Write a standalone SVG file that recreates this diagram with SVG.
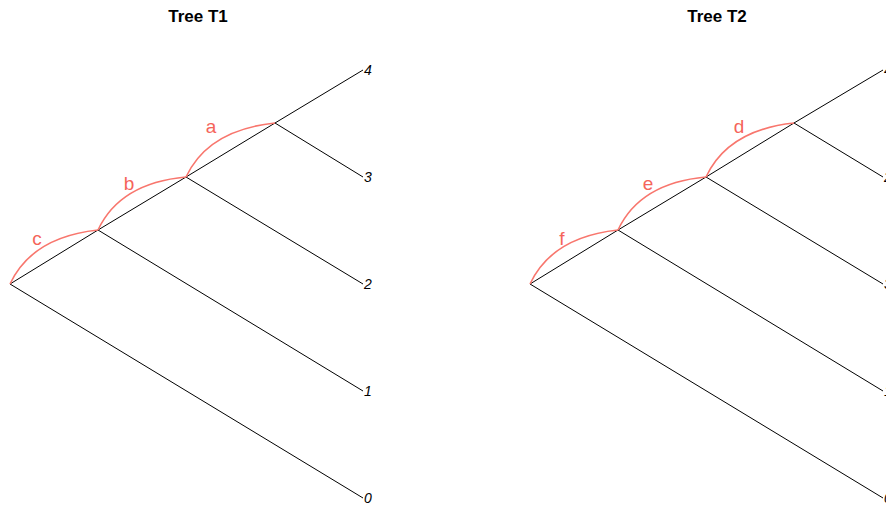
<svg xmlns="http://www.w3.org/2000/svg" width="886" height="508" viewBox="0 0 886 508">
<style>
.e{stroke:#000;stroke-width:1;fill:none}
.arc{stroke:#F8766D;stroke-width:1.6;fill:none}
.t{font-family:"Liberation Sans",Arial,sans-serif;font-size:14px;font-style:italic;fill:#000}
.lab{font-family:"Liberation Sans",Arial,sans-serif;font-size:19px;fill:#F5645A;text-anchor:middle}
.title{font-family:"Liberation Sans",Arial,sans-serif;font-size:17px;font-weight:bold;text-anchor:middle;fill:#000}
</style>
<rect width="886" height="508" fill="#fff"/>
<text class="title" x="198" y="22">Tree T1</text>
<text class="title" x="717" y="22">Tree T2</text>
<g id="connectors">
<g id="t1edges">
<path class="e" d="M10,284 L98,230 L186,177 L275,123 L363,70"/>
<path class="e" d="M275,123 L363,177"/>
<path class="e" d="M186,177 L363,284"/>
<path class="e" d="M98,230 L363,391"/>
<path class="e" d="M10,284 L363,498"/>
</g>
<g id="t2edges">
<path class="e" d="M530,284 L618,230 L706,177 L794,123 L883,70"/>
<path class="e" d="M794,123 L883,177"/>
<path class="e" d="M706,177 L883,284"/>
<path class="e" d="M618,230 L883,391"/>
<path class="e" d="M530,284 L883,498"/>
</g>
<path class="arc" d="M10,284 Q32,237 98,230"/>
<path class="arc" d="M98,230 Q120,183 186,177"/>
<path class="arc" d="M186,177 Q208,130 275,123"/>
<path class="arc" d="M530,284 Q552,237 618,230"/>
<path class="arc" d="M618,230 Q640,183 706,177"/>
<path class="arc" d="M706,177 Q728,130 794,123"/>
</g>
<g id="t1tips">
<text class="t" x="364" y="75">4</text>
<text class="t" x="364" y="182">3</text>
<text class="t" x="364" y="289">2</text>
<text class="t" x="364" y="396">1</text>
<text class="t" x="364" y="503">0</text>
</g>
<g id="t2tips">
<text class="t" x="884" y="75">4</text>
<text class="t" x="884" y="182">2</text>
<text class="t" x="884" y="289">3</text>
<text class="t" x="884" y="396">1</text>
<text class="t" x="884" y="503">0</text>
</g>
<g id="labels">
<text class="lab" x="37" y="245">c</text>
<text class="lab" x="129" y="190">b</text>
<text class="lab" x="211" y="133">a</text>
<text class="lab" x="562" y="245">f</text>
<text class="lab" x="648" y="190">e</text>
<text class="lab" x="739" y="133">d</text>
</g>
</svg>
